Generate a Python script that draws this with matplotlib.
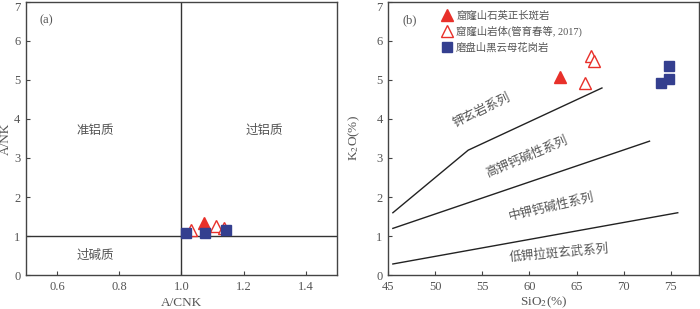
import numpy as np
import matplotlib
matplotlib.use('Agg')
from matplotlib import pyplot as plt

plt.rcParams['font.family'] = ['Liberation Serif', 'Noto Sans CJK SC']
plt.rcParams['mathtext.fontset'] = 'stix'
plt.rcParams['axes.unicode_minus'] = False

red = '#e8302a'
blue = '#343f8f'
grey = '#444444'
text_grey = '#555555'

# (a) A/CNK vs A/NK
a_solid_tri_x = [1.073]
a_solid_tri_y = [1.33]
a_open_tri_x = [1.032, 1.110, 1.136]
a_open_tri_y = [1.16, 1.27, 1.20]
a_square_x = [1.013, 1.077, 1.142]
a_square_y = [1.09, 1.09, 1.15]

# (b) SiO2 vs K2O
b_solid_tri_x = [63.2]
b_solid_tri_y = [5.06]
b_open_tri_x = [66.5, 66.85, 65.9]
b_open_tri_y = [5.62, 5.49, 4.92]
b_square_x = [74.87, 74.87, 73.98]
b_square_y = [5.36, 5.03, 4.91]

# series boundaries
line1_x = [45.5, 53.5, 67.7]
line1_y = [1.6, 3.2, 4.79]
line2_x = [45.5, 72.75]
line2_y = [1.2, 3.43]
line3_x = [45.5, 75.75]
line3_y = [0.29, 1.6]

legend_labels = ['窟窿山石英正长斑岩', '窟窿山岩体(管育春等, 2017)', '磨盘山黑云母花岗岩']


def style_axes(ax):
    for sp in ax.spines.values():
        sp.set_color(grey)
        sp.set_linewidth(1.0)
    ax.tick_params(direction='in', length=3, width=0.8, colors=grey,
                   labelsize=9, labelcolor=text_grey, pad=4)
    # top label "7" sits just under the figure edge
    ax.get_yticklabels()[-1].set_va('top')


fig = plt.figure(figsize=(7.0, 3.09), dpi=100)
ax1 = fig.add_axes([0.0371, 0.109, 0.4443, 0.886])
ax2 = fig.add_axes([0.5545, 0.109, 0.4440, 0.886])

ms_tri = 9
ms_sq = 6.8

# ---- panel (a)
ax1.axvline(1.0, color='#333333', lw=1.0)
ax1.axhline(1.0, color='#333333', lw=1.0)
ax1.plot(a_open_tri_x, a_open_tri_y, '^', ms=ms_tri, mfc='white', mec=red, mew=1.0, ls='none')
ax1.plot(a_solid_tri_x, a_solid_tri_y, '^', ms=ms_tri, color=red, ls='none')
ax1.plot(a_square_x, a_square_y, 's', ms=ms_sq, color=blue, ls='none')
ax1.set_xlim(0.5, 1.5)
ax1.set_ylim(0, 7)
ax1.set_xticks([0.6, 0.8, 1.0, 1.2, 1.4])
ax1.set_xticklabels(['0.6', '0.8', '1.0', '1.2', '1.4'])
ax1.set_yticks(range(0, 8))
style_axes(ax1)
ax1.set_xlabel('A/CNK', fontsize=9.5, color=text_grey)
ax1.set_ylabel('A/NK', fontsize=9.5, color=text_grey)
ax1.xaxis.set_label_coords(0.5, -0.078)
ax1.yaxis.set_label_coords(-0.045, 0.5)
ax1.text(0.045, 0.955, '(a)', transform=ax1.transAxes, fontsize=9, color=text_grey, va='top')
ax1.text(0.724, 3.7, '准铝质', fontsize=9, color=text_grey, ha='center', va='center')
ax1.text(1.266, 3.7, '过铝质', fontsize=9, color=text_grey, ha='center', va='center')
ax1.text(0.724, 0.49, '过碱质', fontsize=9, color=text_grey, ha='center', va='center')

# ---- panel (b)
ax2.plot(line1_x, line1_y, color='#222222', lw=1.0)
ax2.plot(line2_x, line2_y, color='#222222', lw=1.0)
ax2.plot(line3_x, line3_y, color='#222222', lw=1.0)
h1, = ax2.plot(b_solid_tri_x, b_solid_tri_y, '^', ms=ms_tri, color=red, ls='none')
h2, = ax2.plot(b_open_tri_x, b_open_tri_y, '^', ms=ms_tri, mfc='white', mec=red, mew=1.0, ls='none')
h3, = ax2.plot(b_square_x, b_square_y, 's', ms=ms_sq, color=blue, ls='none')
ax2.set_xlim(45, 78)
ax2.set_ylim(0, 7)
ax2.set_xticks([45, 50, 55, 60, 65, 70, 75])
ax2.set_yticks(range(0, 8))
style_axes(ax2)
ax2.set_xlabel('SiO$_2$(%)', fontsize=9.5, color=text_grey)
ax2.set_ylabel('K$_2$O(%)', fontsize=9.5, color=text_grey)
ax2.xaxis.set_label_coords(0.5, -0.07)
ax2.yaxis.set_label_coords(-0.083, 0.5)
ax2.text(0.045, 0.955, '(b)', transform=ax2.transAxes, fontsize=9, color=text_grey, va='top')
ax2.text(54.9, 4.21, '钾玄岩系列', fontsize=9, color=text_grey, ha='center', va='center', rotation=26)
ax2.text(59.7, 3.02, '高钾钙碱性系列', fontsize=9, color=text_grey, ha='center', va='center', rotation=23)
ax2.text(62.35, 1.75, '中钾钙碱性系列', fontsize=9, color=text_grey, ha='center', va='center', rotation=13)
ax2.text(63.2, 0.56, '低钾拉斑玄武系列', fontsize=9, color=text_grey, ha='center', va='center', rotation=5)

leg = ax2.legend([h1, h2, h3], legend_labels, loc='upper left', bbox_to_anchor=(0.145, 1.0),
                 frameon=False, fontsize=7.5, handlelength=1.0, handletextpad=0.35,
                 labelspacing=0.5, borderpad=0.35)
for t in leg.get_texts():
    t.set_color(text_grey)

fig.savefig('out.png', dpi=100)
